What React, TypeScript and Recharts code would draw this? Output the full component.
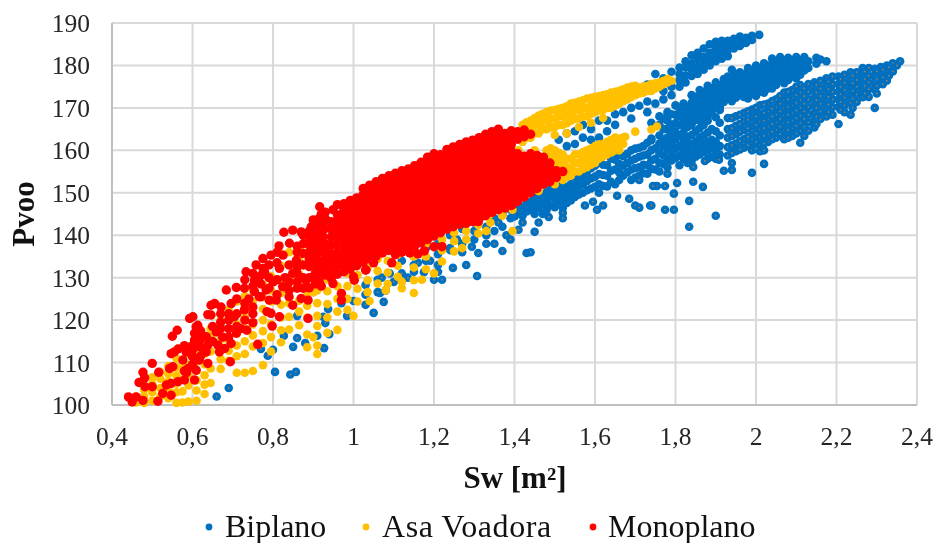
import { CartesianGrid, Scatter, ScatterChart, XAxis, YAxis } from "recharts";

// each row: [Sw, Pvoo, Pvoo, ...]
const biplanoOutliers = [
  [0.66, 102], [0.69, 104], [0.805, 107.8], [0.843, 107.2], [0.857, 107.8], [0.77, 113.2], [0.787, 111.6], [0.8, 113],
  [0.827, 116.3], [0.85, 113.7], [0.86, 115.8], [0.88, 114.6], [0.91, 116.3], [0.927, 113.4], [0.94, 116.7], [0.93, 119.3],
  [0.925, 120.8], [0.937, 122.6], [0.984, 121], [1.03, 123.6], [1.05, 121.7], [1.075, 124.3], [1.066, 126.4], [1.08, 127],
  [1.07, 130], [1.03, 128.3], [0.86, 121], [1.43, 135.8], [1.44, 136], [1.37, 136.3], [1.307, 130.4], [1.28, 133], [1.247, 132.3],
  [1.21, 133, 131.4], [1.175, 131.3], [1.15, 131.4], [1.135, 130], [1.22, 129.5], [1.2, 129.5], [1.06, 126.6],
  [1.257, 139], [1.294, 137.3], [1.31, 135.8], [1.33, 138], [1.35, 138], [1.38, 140], [1.39, 139], [1.41, 141.3], [1.45, 140.8],
  [1.42, 143], [1.46, 143], [1.485, 144.3], [1.52, 144, 145.3], [1.575, 147], [1.595, 147.9], [1.605, 146], [1.62, 147],
  [1.655, 149.3], [1.685, 148.6], [1.7, 147], [1.71, 146.5], [1.737, 147], [1.834, 142, 148.1], [1.9, 144.6], [1.774, 146, 151.6],
  [1.796, 146, 149.8], [1.74, 147], [1.868, 151.4], [1.844, 152.6, 156.1], [1.804, 152.3], [1.754, 151.6], [1.744, 151.6], [1.78, 154.5],
  [1.71, 153], [1.99, 154.7], [2.02, 156.8], [1.92, 155.2], [1.94, 155.4, 157], [1.873, 157.5], [1.908, 157.8],
  [1.3, 141], [1.27, 136], [1.24, 136.5], [1.19, 134], [1.33, 142], [1.36, 143], [1.1, 129], [1.12, 131], [1.16, 133.5],
];
const biplanoStreakA = [
  [2.008, 187.2], [1.99, 187, 186], [1.975, 186.5, 185.3], [1.96, 186.8, 186, 184.6], [1.945, 186.3, 185.5, 184], [1.93, 185.8, 185, 183.6, 182.2],
  [1.915, 185.8, 184.5, 183, 181.6], [1.9, 185.6, 184, 182.6, 181], [1.885, 185, 183, 181.6, 180], [1.87, 184, 182, 180.5, 179], [1.855, 183, 181.5, 179.6, 178],
  [1.84, 182.4, 180.5, 179, 177.5], [1.825, 181, 179.5, 177.6, 176], [1.81, 179.5, 178, 176.5, 175], [1.79, 178.5, 175, 173], [1.77, 177, 174, 172],
  [1.75, 178, 175.5, 171], [1.73, 175.5, 171.5, 169], [1.71, 174.5, 170.5], [1.69, 174, 170, 167.5], [1.67, 173, 169], [1.65, 168.5, 166],
  [1.63, 167, 164.5], [1.61, 167, 163], [1.59, 165, 162.5], [1.57, 166, 163], [1.55, 164.5, 161.5], [1.53, 164, 161], [1.51, 162.5],
];
const biplanoStreakB = [
  [2.175, 181], [2.16, 181.4], [2.15, 181.8, 180.4], [2.12, 182, 180.4, 178.8], [2.1, 182, 180.4, 178.6, 177], [2.08, 181.8, 180, 178.2, 176.6],
  [2.06, 182, 180, 178.2, 176.5], [2.04, 181.6, 179.8, 178, 176.3, 174.6], [2.02, 180.5, 178.8, 177, 175.2, 173.6], [2, 180, 178.2, 176.4, 174.6, 172.8],
  [1.98, 179.4, 177.6, 175.8, 174, 172.2], [1.96, 178.4, 176.6, 174.8, 173], [1.94, 179, 177, 175.2, 173.4, 171.6], [1.92, 176.8, 175, 173.2, 171.4],
  [1.9, 176, 174.2, 172.4, 170.6], [1.88, 175.2, 173.4, 171.6, 169.8, 168], [1.86, 174.2, 172.4, 170.6, 168.8, 167], [1.84, 173, 171.2, 169.4, 167.6],
  [1.82, 171, 169.4, 167.6, 165.8], [1.8, 170.6, 168.4, 166.4, 164.4], [1.78, 169, 167, 165, 163], [1.76, 168, 166, 163.5], [1.74, 166.5, 162.8],
  [2.13, 181, 179.4], [2.11, 181.2, 179.5, 177.8], [2.09, 180.9, 179.1, 177.4], [2.07, 181, 179.1, 177.3, 175.8], [2.05, 180.8, 178.9, 177.1, 175.4], [2.03, 180, 178.1, 176.4, 174.6],
  [2.01, 179.2, 177.5, 175.7, 173.8], [1.99, 178.8, 176.9, 175, 173.3], [1.97, 177.9, 176.2, 174.4, 172.6], [1.95, 177.9, 176, 174.1, 172.4], [1.93, 177.4, 175.9, 174.3, 172.4],
  [1.91, 175.4, 173.6, 172, 170.2], [1.89, 174.6, 172.8, 171, 169.2], [1.87, 173.8, 171.9, 170.1, 168.2], [1.85, 172.6, 170.8, 169, 167.2], [1.83, 170.2, 168.4, 166.6],
  [1.81, 170, 168, 166], [1.79, 168.5, 166, 164, 162], [1.77, 167.5, 165, 162.5],
];
const biplanoStreakC = [
  [2.358, 181], [2.34, 180.5, 178.6], [2.325, 180, 178.4, 176.4], [2.31, 179.6, 178, 176.4], [2.295, 179.2, 177.6, 176, 174.4, 170], [2.28, 179.4, 177.6, 176, 174.4, 172.6],
  [2.265, 179.4, 177.6, 176, 174.2, 172.5], [2.25, 178.4, 176.6, 175, 173.2, 171.4], [2.235, 178.4, 176.6, 174.8, 173, 171.2, 168.4],
  [2.22, 177.8, 176, 174.2, 172.4, 170.6, 169], [2.205, 177.4, 175.6, 173.8, 172, 170.2, 166.2], [2.19, 177.4, 175.6, 173.8, 172, 170.2, 168.4],
  [2.175, 177, 175.2, 173.4, 171.6, 169.8, 168], [2.16, 176.4, 174.6, 172.8, 171, 169.2, 167.4], [2.145, 176, 174.2, 172.4, 170.6, 168.8, 167, 165.4],
  [2.13, 175.6, 173.8, 172, 170.2, 168.4, 166.6, 164.6], [2.11, 175.4, 173.6, 171.8, 170, 168.2, 166.4, 164.6, 161.8], [2.09, 174.2, 172.4, 170.6, 168.8, 167, 165.2, 163.4],
  [2.07, 173.6, 171.8, 170, 168.2, 166.4, 164.6, 162.6], [2.05, 172, 170.2, 168.4, 166.6, 164.8, 163], [2.03, 171, 169.2, 167.4, 165.6, 163.8, 162],
  [2.01, 170.6, 168.6, 166.8, 165, 163.2, 161.4, 159.8], [1.99, 169.6, 167.6, 165.6, 163.6, 161.6, 160], [1.97, 168.8, 166.8, 164.8, 162.6, 160.6],
  [1.95, 168, 165.8, 163.8, 161.6, 159.8], [1.93, 167.6, 165, 163, 160.8, 158.8],
  [2.35, 180], [2.33, 179.6, 177.6], [2.315, 179, 177.2, 175.6], [2.3, 178.6, 176.8, 175.2, 173.4], [2.27, 178.6, 176.8, 175.2, 173.4], [2.24, 177.6, 175.8, 174, 172.2, 170],
  [2.21, 176.8, 175, 173.2, 171.4, 169.6], [2.18, 176.2, 174.4, 172.6, 170.8, 169], [2.15, 175.4, 173.6, 171.8, 170, 168, 166.2], [2.12, 174.6, 172.8, 171, 169.2, 167.4, 165.6, 163.4],
  [2.1, 175, 173, 171.2, 169.4, 167.6, 165.8, 164], [2.08, 173.8, 172, 170.2, 168.4, 166.6, 164.8, 163], [2.06, 172.8, 171, 169.2, 167.4, 165.6, 163.8], [2.04, 171.6, 169.8, 168, 166.2, 164.4, 162.6],
  [2.02, 170.8, 168.8, 167, 165.2, 163.4, 161.6, 160], [2, 170, 168, 166, 164, 162, 160.4], [1.98, 169.2, 167.2, 165.2, 163.2, 161.2], [1.96, 168.4, 166.2, 164.4, 162.2, 160.2], [1.94, 167.6, 165.2, 163.4, 161.2, 159.4],
];
const biplanoCloud = [
  [1.91, 169.5, 166.5, 163.5, 161, 159], [1.89, 165, 162.5, 160.5, 158.5], [1.87, 166, 163.5, 161.5, 159.6], [1.85, 164.5, 162, 160, 158.5],
  [1.83, 165.5, 163, 161, 159, 157], [1.81, 163.5, 161, 158.8, 156.5], [1.79, 161.5, 159.5, 157.6], [1.77, 161, 158.8, 156.8], [1.75, 160.5, 158, 155.5],
  [1.73, 161.8, 159, 156.5, 154.5], [1.71, 160.6, 158.5, 156, 154], [1.69, 160, 157.6, 155.5, 153], [1.67, 158.6, 156.4, 154], [1.65, 160, 157.8, 155.5, 152],
  [1.63, 156.5, 154, 151.5], [1.61, 157, 154.4, 152, 150], [1.59, 155.8, 153.4, 151], [1.57, 154, 152, 150], [1.55, 153, 151, 149], [1.53, 151.4, 149.6, 147.6],
  [1.51, 152, 150, 148], [1.49, 151, 149.2, 147], [1.47, 149.6, 147.4, 145], [1.45, 149, 147, 145], [1.43, 147.6, 145.6], [1.41, 147, 145], [1.39, 146, 144],
  [1.37, 145, 142], [1.35, 144, 141], [1.33, 145, 140], [1.3, 143, 139], [1.27, 141.5, 138], [1.24, 140, 137], [1.21, 138, 135.5], [1.18, 137, 134],
  [1.15, 135, 133], [1.12, 134], [1.09, 131], [1.06, 129.5], [1.03, 126], [1, 124.5], [0.97, 124],
  [1.9, 167.8, 164.5, 162, 160, 158], [1.88, 167, 164.2, 162, 160, 158], [1.86, 165.2, 163, 160.8, 159], [1.84, 166, 163.6, 161.4, 159.4, 157.5], [1.82, 164.2, 162, 160, 158],
  [1.8, 162.6, 160.4, 158.2], [1.78, 162.2, 160.2, 158, 156], [1.76, 161.6, 159.4, 157, 155], [1.74, 162.4, 160, 157.6, 155.6], [1.72, 161, 158.8, 156.6, 154.6],
  [1.7, 160.4, 158, 155.8, 153.6], [1.68, 159.2, 157, 154.8], [1.66, 159, 156.8, 154.8, 153], [1.64, 158, 155.2, 152.6], [1.62, 156.6, 154.2, 151.6], [1.6, 156.4, 153.8, 151.4],
  [1.58, 155, 152.8, 150.6], [1.56, 153.6, 151.6, 149.6], [1.54, 152, 150.2, 148.2], [1.52, 151, 149, 147.2, 146.5], [1.5, 150.6, 148.6, 146.6], [1.48, 150.2, 148.2, 146],
  [1.46, 148.4, 146.4], [1.44, 148, 146], [1.42, 146.5, 144.6], [1.4, 146, 144.4],
];

const asaStreakUpper = [
  [1.42, 162, 164, 166], [1.44, 163, 165, 167], [1.46, 164, 166, 168.2], [1.48, 165, 167, 169], [1.5, 165.5, 167.5, 169.5], [1.52, 166, 168, 170],
  [1.54, 167, 169, 171], [1.56, 167.5, 169.5, 171.5], [1.58, 168, 170, 172.2], [1.6, 169, 171, 172.6], [1.62, 169.5, 171.2, 173], [1.64, 170, 172, 173.6],
  [1.66, 171, 172.6, 174], [1.68, 172, 173.5, 174.8], [1.7, 173, 174.5, 175.2], [1.72, 173.6, 175], [1.74, 174, 175.6], [1.76, 175, 176], [1.78, 176, 176.8], [1.79, 176.4],
  [1.5, 163.6], [1.53, 164], [1.56, 165.5], [1.59, 166.5], [1.62, 167.6],
  [1.43, 163, 165, 166.6], [1.45, 164, 166, 167.6], [1.47, 165, 167, 168.6], [1.49, 165.4, 167.4, 169.4], [1.51, 166, 168, 169.8], [1.53, 166.4, 168.4, 170.4], [1.55, 167.4, 169.4, 171.2],
  [1.57, 168, 170, 171.8], [1.59, 168.6, 170.6, 172.4], [1.61, 169.4, 171, 172.8], [1.63, 170, 171.6, 173.2], [1.65, 170.6, 172.4, 173.8], [1.67, 171.6, 173, 174.4], [1.69, 172.6, 174, 175],
  [1.71, 173.4, 174.8], [1.73, 174, 175.2], [1.75, 174.6, 175.8], [1.77, 175.6, 176.4],
];
const asaStreakLower = [
  [1.48, 156, 158, 160], [1.5, 152, 154, 156, 158, 160], [1.52, 153, 155, 157, 159], [1.54, 154, 156, 158], [1.56, 155, 157, 159], [1.58, 156, 158, 160], [1.6, 157, 159, 161],
  [1.62, 158.5, 160, 161.5], [1.64, 159.5, 161, 162.5], [1.66, 160, 161.6, 162.8], [1.675, 163.2], [1.7, 164.4], [1.74, 164.9], [1.754, 165.6], [1.53, 153.8], [1.45, 160], [1.41, 160],
  [1.51, 153.5, 155.5, 157.5, 159.4], [1.53, 154.5, 156, 158], [1.55, 155, 157, 159], [1.57, 155.6, 157.6, 159.6], [1.59, 156.6, 158.6, 160.4], [1.61, 158, 160, 161.4], [1.63, 159, 160.6, 162],
  [1.65, 160, 161.6, 163], [1.67, 161.5, 163], [1.49, 156.5, 158.5, 160.5],
];
const asaBand = [
  [0.46, 100.6, 102], [0.48, 100.5, 102, 103.6], [0.5, 101, 103, 105, 106.5], [0.52, 102, 104, 106.2, 107.8], [0.54, 101.6, 103.6, 105.6, 107.4, 109.2], [0.56, 100.5, 103, 105, 107, 109, 111],
  [0.575, 100.6, 103.2, 106, 108.5, 110.5], [0.59, 100.8, 104.6, 107, 109.5, 112], [0.61, 101, 103.4, 105.8, 108, 110.2, 112.6, 114.8], [0.63, 102.6, 104.8, 107, 109.6, 112, 114.4, 116.4], [0.645, 105.2, 108.6, 112.6, 116, 118],
  [0.67, 108.5, 110.8, 113, 115.4, 118.2, 120], [0.69, 110.4, 112.8, 115.2, 118, 120.4, 122.4], [0.71, 107.6, 111.5, 114, 116.8, 119, 121.4, 124.4], [0.73, 107.6, 112, 115, 118, 120.6, 123, 125.6], [0.75, 108, 113.8, 116.4, 119, 121.6, 124.4, 127],
  [0.775, 109.4, 114.6, 117.4, 120, 122.6, 125.4, 128.4], [0.795, 112.6, 116, 119, 121.6, 124.4, 127, 130.4], [0.82, 114.8, 117.6, 120.6, 123.6, 126.4, 129.6, 132.8, 135.6], [0.84, 117.8, 120.8, 124, 127, 130, 133, 136], [0.865, 118.8, 122, 124.6, 127.8, 130.8, 134, 137],
  [0.885, 113.6, 116.6, 120.6, 123.4, 126.6, 129.8, 133, 136], [0.91, 112, 114, 118.6, 121, 124, 127, 130, 133, 136.5], [0.935, 117, 120.6, 123.8, 126.8, 129.6, 133], [0.96, 117.7, 122, 125, 128, 131, 134.5],
  [0.985, 122.4, 125, 128, 131, 134], [1.01, 124.4, 127.4, 130.6, 133.6], [1.035, 126.6, 129.4, 132.4], [1.06, 128.6, 131.6, 134.4], [1.085, 128.5, 131.2, 134], [1.11, 130.2, 132.8, 135.4],
  [1.15, 126.4, 129.4, 132.4, 135, 137], [1.18, 132, 135, 138], [1.22, 133.8, 136.4, 139], [1.25, 136.2, 138.6, 140.6], [1.28, 139, 141, 143], [1.31, 140.4, 142.4, 144.4], [1.34, 143, 145], [1.37, 144.6, 146.4], [1.395, 141, 146, 148], [1.43, 149.6, 151], [1.46, 150.4, 152],
  [1, 121], [1.04, 124.5], [1.08, 127], [1.12, 127.5, 129], [1.17, 129.5], [1.2, 131], [1.27, 137], [1.33, 141], [0.9, 116, 126.5],
];

const monoplanoFringe = [
  [0.441, 101.9], [0.46, 101.9], [0.45, 100.7], [0.477, 101.1, 107.7], [0.514, 100.9], [0.467, 105.3], [0.481, 106.4], [0.5, 109.8, 104.3], [0.516, 107.7], [0.482, 104.3],
  [0.526, 102.7], [0.547, 102.3, 105.1, 112.1], [0.535, 104.7], [0.564, 105.5, 113.2], [0.58, 105.9], [0.605, 105.9, 115.3, 116.9], [0.543, 108.6], [0.551, 109], [0.576, 110.6], [0.584, 112.5], [0.6, 111.4],
  [0.617, 110.6], [0.638, 109.8, 114.1, 121.3], [0.589, 108.6], [0.609, 108.2, 118.4], [0.555, 112.5], [0.55, 116.2], [0.562, 117.6], [0.593, 120.4], [0.601, 120.8], [0.613, 118.8], [0.646, 121.2, 123.5],
  [0.634, 116.1, 112.5], [0.663, 114.1], [0.667, 112.5], [0.68, 113.3], [0.694, 110.2], [0.655, 123.9], [0.671, 123.1], [0.696, 123.9, 114.5], [0.684, 127.1], [0.709, 127.7, 116.9], [0.729, 127.5, 122.4],
  [0.733, 131.4], [0.754, 129.4, 126.7], [0.758, 133], [0.775, 134.5, 132.2], [0.779, 131.4], [0.795, 135.3, 121.6], [0.659, 117.2], [0.675, 116], [0.704, 120.8], [0.75, 123.1, 119.4], [0.766, 125.5],
  [0.762, 114.3], [0.798, 118.6], [0.816, 120.8, 132.2], [0.791, 124.7], [0.783, 127.1], [0.824, 127.9], [0.808, 124.7], [0.849, 123.5, 131], [0.87, 125.1, 140.8], [0.887, 124.7, 120.4],
  [0.827, 140.7], [0.849, 141.2], [0.895, 142], [0.916, 146.7, 131], [0.932, 143.6], [0.949, 146, 128.6], [0.841, 138.1], [0.825, 135.3], [0.858, 134.1], [0.874, 135.7], [0.907, 136.9], [0.924, 139.7],
  [0.882, 129.4], [0.97, 126.3, 124.7], [1.002, 129.4], [1.031, 131.8], [0.72, 118], [0.74, 125], [0.77, 128.5], [0.8, 129], [0.83, 130], [0.86, 127.5, 137.4], [0.89, 127.6, 132.6, 137.8], [0.815, 137.5],
  [0.785, 122], [0.735, 117.6], [0.69, 118], [0.62, 113.6], [0.585, 107.6],
  [0.84, 125.5, 127, 129, 133], [0.86, 129, 131, 132.5, 136], [0.875, 127.5, 130, 133, 138, 140], [0.89, 130, 134.5, 136, 139.5, 141], [0.905, 128.5, 131, 133, 139, 141.5, 143.5], [0.92, 128, 142.5, 145],
  [0.81, 126, 129.5, 133.5, 136], [0.79, 130, 133, 127.5], [0.77, 125.5, 130.5], [0.75, 121.5, 128, 131], [0.73, 120, 124, 129.5], [0.71, 118.5, 121.5, 125], [0.69, 120, 121.5, 116], [0.67, 118, 119.5, 121.5],
  [0.65, 115, 118.5], [0.62, 111.5, 115.5, 117.5], [0.6, 113, 114, 109.5], [0.58, 108, 114],
  [1.14, 135.8], [1.16, 135.6], [1.176, 136.3], [1.2, 137.3], [1.22, 137.3], [1.19, 140], [1.095, 133.5], [1.05, 133.5], [1.03, 131.8], [1, 130.2], [1.31, 143.2], [1.395, 147.2],
];
const monoplanoCore = [
  [0.9, 130, 133.6, 135.2, 138.8, 140.4, 143.6], [0.915, 129, 132.4, 134, 136, 137.8, 139.6, 141.4, 144], [0.93, 130.6, 132.6, 134.4, 136.2, 138, 141.6, 145.4], [0.945, 129.8, 131.6, 133.6, 135.6, 137.6, 139.6, 141.4, 143.2],
  [0.96, 130.8, 132.8, 134.4, 136, 137.8, 139.6, 141.2, 143, 144.8, 147.2], [0.976, 131.4, 133, 134.6, 136.2, 137.8, 139.4, 141, 142.6, 144.2, 145.8, 147.4], [0.992, 132, 133.6, 135.2, 136.8, 138.4, 140, 141.6, 143.2, 144.8, 146.4, 148.2],
  [1.008, 132.8, 134.4, 136, 137.6, 139.2, 140.8, 142.4, 144, 145.6, 147.2, 148.8], [1.024, 133.6, 135.2, 136.8, 138.4, 140, 141.6, 143.2, 144.8, 146.4, 148, 149.6, 151], [1.04, 134.4, 136, 137.6, 139.2, 140.8, 142.4, 144, 145.6, 147.2, 148.8, 150.4, 151.8],
  [1.056, 135, 136.6, 138.2, 139.8, 141.4, 143, 144.6, 146.2, 147.8, 149.4, 151, 152.6], [1.072, 135.8, 137.4, 139, 140.6, 142.2, 143.8, 145.4, 147, 148.6, 150.2, 151.8, 153.4], [1.088, 136.4, 138, 139.6, 141.2, 142.8, 144.4, 146, 147.6, 149.2, 150.8, 152.4, 154],
  [1.104, 135.4, 137, 138.6, 140.2, 141.8, 143.4, 145, 146.6, 148.2, 149.8, 151.4, 153, 154.6], [1.12, 136, 137.6, 139.2, 140.8, 142.4, 144, 145.6, 147.2, 148.8, 150.4, 152, 153.6, 155.2], [1.136, 136.2, 138, 139.6, 141.2, 142.8, 144.4, 146, 147.6, 149.2, 150.8, 152.4, 154, 155.6],
  [1.152, 137.4, 139, 140.6, 142.2, 143.8, 145.4, 147, 148.6, 150.2, 151.8, 153.4, 155, 156.4], [1.168, 138.2, 139.8, 141.4, 143, 144.6, 146.2, 147.8, 149.4, 151, 152.6, 154.2, 155.8, 157.2], [1.184, 139, 140.6, 142.2, 143.8, 145.4, 147, 148.6, 150.2, 151.8, 153.4, 155, 156.6, 158.4],
  [1.2, 139.8, 141.4, 143, 144.6, 146.2, 147.8, 149.4, 151, 152.6, 154.2, 155.8, 157.4, 159.2], [1.216, 140.6, 142.2, 143.8, 145.4, 147, 148.6, 150.2, 151.8, 153.4, 155, 156.6, 158.2, 159], [1.232, 141.4, 143, 144.6, 146.2, 147.8, 149.4, 151, 152.6, 154.2, 155.8, 157.4, 159, 160.2],
  [1.248, 142, 143.6, 145.2, 146.8, 148.4, 150, 151.6, 153.2, 154.8, 156.4, 158, 159.6, 160.8], [1.264, 142.6, 144.2, 145.8, 147.4, 149, 150.6, 152.2, 153.8, 155.4, 157, 158.6, 160.2, 161.4], [1.28, 142.8, 144.4, 146, 147.6, 149.2, 150.8, 152.4, 154, 155.6, 157.2, 158.8, 160.4, 162],
  [1.296, 143.2, 144.8, 146.4, 148, 149.6, 151.2, 152.8, 154.4, 156, 157.6, 159.2, 160.8, 162.4], [1.312, 143.8, 145.4, 147, 148.6, 150.2, 151.8, 153.4, 155, 156.6, 158.2, 159.8, 161.4, 163], [1.328, 144.6, 146.2, 147.8, 149.4, 151, 152.6, 154.2, 155.8, 157.4, 159, 160.6, 162.2, 163.8],
  [1.344, 145.4, 147, 148.6, 150.2, 151.8, 153.4, 155, 156.6, 158.2, 159.8, 161.4, 163, 164.4], [1.36, 146, 147.6, 149.2, 150.8, 152.4, 154, 155.6, 157.2, 158.8, 160.4, 162, 163.6, 165], [1.376, 146.4, 148, 149.6, 151.2, 152.8, 154.4, 156, 157.6, 159.2, 160.8, 162.4, 164],
  [1.392, 147, 148.6, 150.2, 151.8, 153.4, 155, 156.6, 158.2, 159.8, 161.4, 163, 164.6], [1.408, 148, 149.6, 151.2, 152.8, 154.4, 156, 157.6, 159.2, 162.6, 164.4], [1.424, 149, 150.6, 152.2, 153.8, 155.4, 157, 158.6, 164.8, 163.2],
  [1.44, 150, 151.6, 153.2, 154.8, 156.4, 158, 159.2, 163.8], [1.456, 151, 152.6, 154.2, 155.8, 157.4, 158.8], [1.472, 152, 153.6, 155.2, 156.8, 158.4], [1.488, 152.6, 154.2, 155.8, 157], [1.504, 153.6, 155.2], [1.52, 155],
];

const biplanoPlainGroups = [biplanoStreakA, biplanoStreakB, biplanoCloud];
const biplanoSpeckledGroups = [biplanoOutliers, biplanoStreakC];
const asaGroups = [asaBand, asaStreakUpper, asaStreakLower];
const monoplanoGroups = [monoplanoFringe, monoplanoCore];

const xTicks = [0.4, 0.6, 0.8, 1, 1.2, 1.4, 1.6, 1.8, 2, 2.2, 2.4];
const yTicks = [100, 110, 120, 130, 140, 150, 160, 170, 180, 190];

function toPoints(groups: number[][][]) {
  return groups.flat().flatMap(([sw, ...ys]) => ys.map((pvoo) => ({ sw, pvoo })));
}

// the source image shows a tiny brownish speck inside part of the blue markers
const Dot = (color: string, r: number, speck?: string) => (p: any) => (
  <g>
    <circle cx={p.cx} cy={p.cy} r={r} fill={color} />
    {speck && <circle cx={p.cx} cy={p.cy} r={0.9} fill={speck} />}
  </g>
);

const legendItems = [
  { label: "Biplano", color: "#0070c0", dot: 209, text: 225, spacing: 0 },
  { label: "Asa Voadora", color: "#ffc000", dot: 366, text: 382, spacing: 0.6 },
  { label: "Monoplano", color: "#ff0000", dot: 593, text: 608, spacing: 0 },
];

const font = "'Liberation Serif', 'Times New Roman', serif";

export default function App() {
  return (
    <div style={{ position: "absolute", left: 0, top: 0, width: 939, height: 543, background: "#fff", filter: "blur(0.4px)" }}>
      <ScatterChart width={939} height={543} margin={{ top: 23, right: 22, bottom: 98, left: 52 }}>
        <CartesianGrid stroke="#d9d9d9" strokeWidth={2} horizontalValues={yTicks} verticalValues={xTicks} />
        <XAxis
          type="number"
          dataKey="sw"
          domain={[0.4, 2.4]}
          ticks={xTicks}
          height={40}
          interval={0}
          tickLine={false}
          axisLine={{ stroke: "#bfbfbf", strokeWidth: 2 }}
          tick={{ fill: "#262626", fontSize: 25.5, fontFamily: font }}
          tickMargin={16}
          tickFormatter={(v: number) => String(v).replace(".", ",")}
        />
        <YAxis
          type="number"
          dataKey="pvoo"
          domain={[100, 190]}
          ticks={yTicks}
          width={60}
          interval={0}
          tickLine={false}
          axisLine={{ stroke: "#bfbfbf", strokeWidth: 2 }}
          tick={{ fill: "#262626", fontSize: 25.5, fontFamily: font }}
          tickMargin={16}
        />
        <Scatter name="Biplano" data={toPoints(biplanoPlainGroups)} shape={Dot("#0070c0", 4.3)} isAnimationActive={false} />
        <Scatter name="Biplano" data={toPoints(biplanoSpeckledGroups)} shape={Dot("#0070c0", 4.3, "#9a7f63")} isAnimationActive={false} />
        <Scatter name="Asa Voadora" data={toPoints(asaGroups)} shape={Dot("#ffc000", 4.3)} isAnimationActive={false} />
        <Scatter name="Monoplano" data={toPoints(monoplanoGroups)} shape={Dot("#ff0000", 4.7)} isAnimationActive={false} />
        <text x={515} y={488} textAnchor="middle" fontFamily={font} fontSize={31} fontWeight="bold" fill="#111">
          Sw [m²]
        </text>
        <text
          transform="translate(34 214) rotate(-90)"
          textAnchor="middle"
          fontFamily={font}
          fontSize={31}
          fontWeight="bold"
          fill="#111"
        >
          Pvoo
        </text>
        {legendItems.map((it) => (
          <g key={it.label}>
            <circle cx={it.dot} cy={527} r={3.4} fill={it.color} />
            <text x={it.text} y={537} fontFamily={font} fontSize={32} letterSpacing={it.spacing} fill="#111">
              {it.label}
            </text>
          </g>
        ))}
      </ScatterChart>
    </div>
  );
}
